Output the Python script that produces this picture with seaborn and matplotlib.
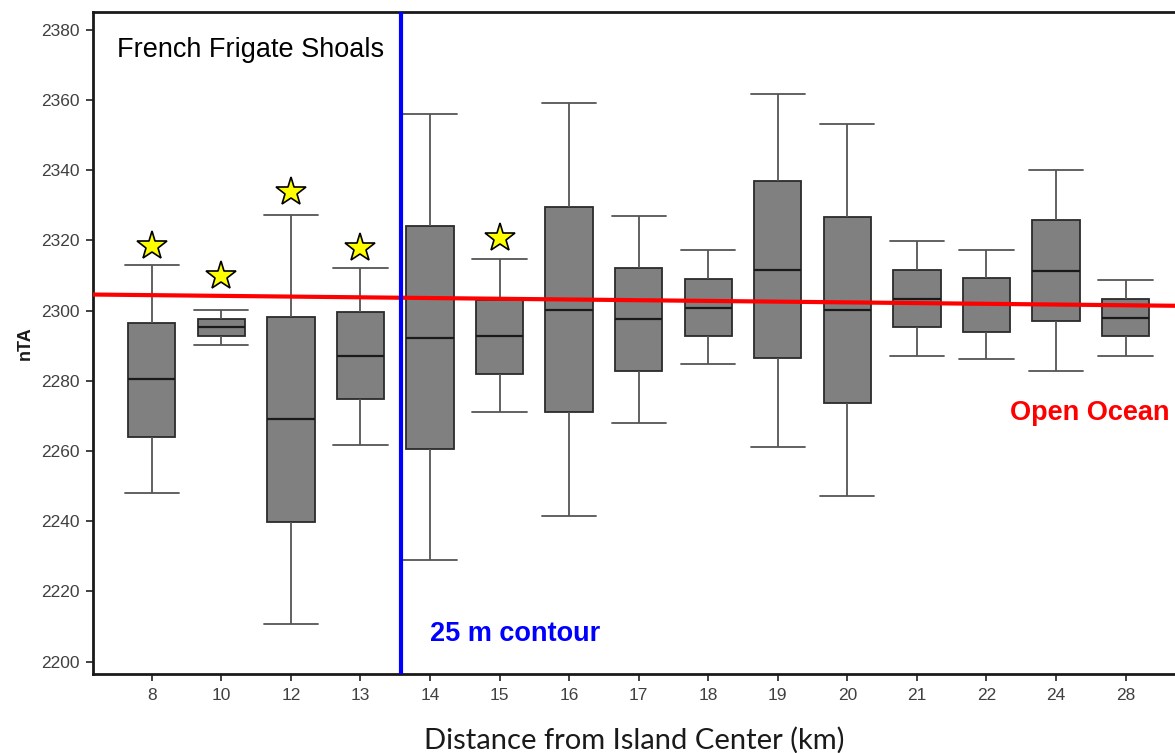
import numpy as np
import pandas as pd
import matplotlib
matplotlib.use("Agg")
import matplotlib.pyplot as plt
import seaborn as sns

# ---- data ----
categories = ["8", "10", "12", "13", "14", "15", "16", "17", "18", "19", "20", "21", "22", "24", "28"]
whisker_low = [2248.1, 2290.3, 2210.7, 2261.8, 2228.9, 2271.1, 2241.6, 2268.1, 2284.8, 2261.3, 2247.2, 2287.1, 2286.1, 2282.8, 2287.0]
q1          = [2264.1, 2292.7, 2239.9, 2274.7, 2260.6, 2281.9, 2271.1, 2282.8, 2292.9, 2286.5, 2273.8, 2295.4, 2294.0, 2297.2, 2292.7]
median      = [2280.6, 2295.4, 2269.1, 2287.2, 2292.3, 2292.7, 2300.2, 2297.6, 2300.8, 2311.6, 2300.2, 2303.4, 2301.9, 2311.3, 2297.9]
q3          = [2296.5, 2297.6, 2298.2, 2299.7, 2324.2, 2303.1, 2329.6, 2312.2, 2309.0, 2336.9, 2326.7, 2311.6, 2309.3, 2325.7, 2303.4]
whisker_high= [2313.0, 2300.2, 2327.4, 2312.3, 2356.0, 2314.6, 2359.1, 2327.0, 2317.2, 2361.8, 2353.3, 2319.9, 2317.3, 2340.1, 2308.7]

star_categories = ["8", "10", "12", "13", "15"]
star_values = [2318.5, 2310.0, 2333.7, 2318.0, 2320.7]

ocean_trend_start = 2304.6   # value at left edge of plot
ocean_trend_end = 2301.4     # value at right edge of plot
contour_position = 3.58      # between 13 km and 14 km

yticks = list(range(2200, 2381, 20))

# long-form table: five-number summary per category (exact quartiles for n=5)
rows = []
for i, c in enumerate(categories):
    for v in (whisker_low[i], q1[i], median[i], q3[i], whisker_high[i]):
        rows.append({"dist": c, "nTA": v})
df = pd.DataFrame(rows)

sns.set_theme(style="white")
plt.rcParams["font.family"] = ["Liberation Sans", "DejaVu Sans"]

fig = plt.figure(figsize=(11.75, 7.53), dpi=100)
ax = fig.add_axes([93.3 / 1175, (753 - 674.3) / 753, (1175 - 93.3) / 1175, (674.3 - 12) / 753])

sns.boxplot(
    data=df, x="dist", y="nTA", order=categories, ax=ax,
    color="#808080", saturation=1, linecolor="#2b2b2b", linewidth=1.3,
    width=0.68, whis=(0, 100), capwidths=0.78, showfliers=False,
    whiskerprops=dict(color="#555555", linewidth=1.3),
    capprops=dict(color="#555555", linewidth=1.3),
    medianprops=dict(color="#1a1a1a", linewidth=1.6),
)

xlim = (-0.84, 14.71)
ax.set_xlim(xlim)
ax.set_ylim(2196.4, 2385.1)

# open-ocean trend line
ax.plot(xlim, [ocean_trend_start, ocean_trend_end], color="#ff0000", linewidth=3.0, zorder=5)
# 25 m contour line
ax.axvline(contour_position, color="#0000ff", linewidth=3.0, zorder=6)

# stars
star_pos = [categories.index(c) for c in star_categories]
ax.plot(star_pos, star_values, linestyle="none", marker="*", markersize=22,
        markerfacecolor="#ffff00", markeredgecolor="black", markeredgewidth=1.2, zorder=7)

# axes styling
ax.set_yticks(yticks)
ax.tick_params(axis="both", direction="out", length=5, width=1.3, color="#333333",
               labelsize=12.5, labelcolor="#404040", pad=5, left=True, bottom=True)
for side in ("left", "bottom", "top"):
    ax.spines[side].set_visible(True)
    ax.spines[side].set_color("#1a1a1a")
    ax.spines[side].set_linewidth(2.0)
ax.spines["right"].set_visible(False)

ax.set_ylabel("nTA", fontsize=13, fontweight="bold", color="#1a1a1a", labelpad=5)
ax.set_xlabel("Distance from Island Center (km)", fontsize=21, family=["Lato", "DejaVu Sans"],
              color="#1a1a1a", labelpad=17)

ax.text(0.022, 0.9426, "French Frigate Shoals", transform=ax.transAxes, fontsize=19.5,
        color="black", ha="left", va="center")
ax.text(4.0, 2207.8, "25 m contour", fontsize=19.5, fontweight="bold", color="#0000ff",
        ha="left", va="center")
ax.text(0.995, 0.395, "Open Ocean", transform=ax.transAxes, fontsize=19.5, fontweight="bold",
        color="#ff0000", ha="right", va="center")

fig.savefig("out.png", dpi=100, facecolor="white")
